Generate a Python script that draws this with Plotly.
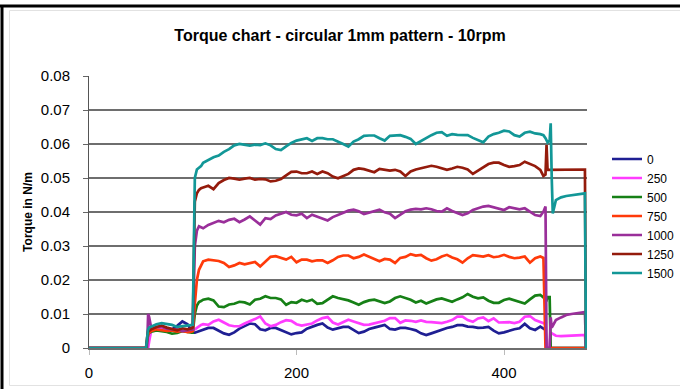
import plotly.graph_objects as go

# ---------------- data ----------------
time_s = [0, 54, 55, 56, 57, 58, 60, 65, 70, 75, 80, 85, 90, 95, 99, 100, 102, 104, 106, 108,
          110, 115, 120, 125, 130, 135, 140, 145, 150, 155, 160, 165, 170, 175, 180, 185, 190, 195, 200,
          205, 210, 215, 220, 225, 230, 235, 240, 245, 250, 255, 260, 265, 270, 275, 280, 285, 290, 295, 300, 305, 310, 315,
          320, 325, 330, 335, 340, 345, 350, 355, 360, 365, 370, 375, 380, 385, 390, 395, 400, 405, 410, 415, 420, 425, 430, 435,
          438, 440, 441, 442, 444, 445, 446, 447,
          450, 455, 460, 465, 470, 475, 478, 479]

torque_0 = [0, 0, 0, 0.001, 0.003, 0.0045, 0.0050, 0.0055, 0.0052, 0.0050, 0.0055, 0.0065, 0.0078, 0.0070, 0.0050, 0.0045, 0.0045, 0.0047, 0.0050, 0.0052,
            0.0055, 0.0059, 0.0059, 0.0051, 0.0043, 0.0039, 0.0046, 0.0057, 0.0064, 0.0072, 0.0070, 0.0055, 0.0052, 0.0059, 0.0059, 0.0052, 0.0047, 0.0040, 0.0044,
            0.0046, 0.0057, 0.0063, 0.0068, 0.0072, 0.0060, 0.0054, 0.0057, 0.0062, 0.0062, 0.0052, 0.0044, 0.0048, 0.0056, 0.0060, 0.0064, 0.0068, 0.0056, 0.0054, 0.0059, 0.0059, 0.0056, 0.0052,
            0.0043, 0.0038, 0.0043, 0.0049, 0.0055, 0.0059, 0.0062, 0.0067, 0.0067, 0.0063, 0.0062, 0.0059, 0.0060, 0.0062, 0.0051, 0.0043, 0.0046, 0.0051, 0.0055, 0.0058, 0.0071, 0.0058, 0.0053, 0.0063,
            0.0057, 0.0053, 0, 0, 0, 0, 0, 0,
            0, 0, 0, 0, 0, 0, 0, 0]

torque_250 = [0, 0, 0, 0, 0, 0.002, 0.0052, 0.0057, 0.0055, 0.0053, 0.0050, 0.0052, 0.0050, 0.0048, 0.0050, 0.0050, 0.0055, 0.0060, 0.0065, 0.0068,
              0.0070, 0.0068, 0.0078, 0.0083, 0.0075, 0.0067, 0.0064, 0.0064, 0.0072, 0.0078, 0.0085, 0.0093, 0.0072, 0.0064, 0.0068, 0.0076, 0.0082, 0.0080, 0.0070,
              0.0066, 0.0069, 0.0072, 0.0081, 0.0088, 0.0091, 0.0075, 0.0069, 0.0076, 0.0083, 0.0078, 0.0072, 0.0068, 0.0069, 0.0072, 0.0075, 0.0080, 0.0088, 0.0088, 0.0074, 0.0081, 0.0080, 0.0077,
              0.0081, 0.0077, 0.0076, 0.0075, 0.0073, 0.0077, 0.0082, 0.0092, 0.0092, 0.0082, 0.0077, 0.0087, 0.0090, 0.0079, 0.0087, 0.0075, 0.0075, 0.0076, 0.0073, 0.0077, 0.0092, 0.0094, 0.0082, 0.0077,
              0.0075, 0.0071, 0, 0, 0, 0.0045, 0.0043, 0.0042,
              0.0036, 0.0035, 0.0035, 0.0036, 0.0037, 0.0038, 0.0038, 0]

torque_500 = [0, 0, 0, 0.002, 0.004, 0.0045, 0.0048, 0.0052, 0.0050, 0.0047, 0.0042, 0.0044, 0.0050, 0.0046, 0.0045, 0.0045, 0.0100, 0.0125, 0.0135, 0.0138,
              0.0142, 0.0145, 0.0140, 0.0122, 0.0120, 0.0128, 0.0130, 0.0136, 0.0134, 0.0128, 0.0142, 0.0145, 0.0152, 0.0147, 0.0147, 0.0143, 0.0127, 0.0135, 0.0133,
              0.0142, 0.0137, 0.0142, 0.0130, 0.0132, 0.0142, 0.0152, 0.0147, 0.0144, 0.0140, 0.0134, 0.0127, 0.0135, 0.0140, 0.0142, 0.0137, 0.0132, 0.0137, 0.0147, 0.0152, 0.0147, 0.0142, 0.0134,
              0.0139, 0.0131, 0.0138, 0.0143, 0.0146, 0.0141, 0.0136, 0.0143, 0.0149, 0.0159, 0.0151, 0.0146, 0.0149, 0.0139, 0.0133, 0.0133, 0.0141, 0.0145, 0.0141, 0.0136, 0.0131, 0.0143, 0.0154, 0.0156,
              0.0149, 0.0141, 0.0140, 0.0150, 0.0150, 0, 0, 0,
              0, 0, 0, 0, 0, 0, 0, 0]

torque_750 = [0, 0, 0, 0.002, 0.004, 0.0045, 0.0050, 0.0055, 0.0053, 0.0050, 0.0052, 0.0048, 0.0050, 0.0047, 0.0048, 0.0050, 0.0130, 0.0200, 0.0230, 0.0245,
              0.0255, 0.0260, 0.0258, 0.0256, 0.0250, 0.0238, 0.0243, 0.0250, 0.0246, 0.0250, 0.0253, 0.0240, 0.0255, 0.0268, 0.0270, 0.0265, 0.0260, 0.0268, 0.0252,
              0.0260, 0.0260, 0.0255, 0.0258, 0.0258, 0.0250, 0.0258, 0.0268, 0.0272, 0.0272, 0.0264, 0.0268, 0.0275, 0.0268, 0.0260, 0.0255, 0.0262, 0.0260, 0.0250, 0.0265, 0.0268, 0.0276, 0.0272,
              0.0274, 0.0264, 0.0257, 0.0261, 0.0269, 0.0274, 0.0266, 0.0261, 0.0251, 0.0264, 0.0273, 0.0271, 0.0269, 0.0273, 0.0267, 0.0269, 0.0274, 0.0268, 0.0264, 0.0266, 0.0269, 0.0251, 0.0264, 0.0269,
              0.0265, 0, 0, 0, 0, 0, 0, 0,
              0, 0, 0, 0, 0, 0, 0, 0]

torque_1000 = [0, 0, 0, 0, 0.0100, 0.0090, 0.0058, 0.0062, 0.0062, 0.0057, 0.0055, 0.0055, 0.0050, 0.0053, 0.0055, 0.0055, 0.0300, 0.0345, 0.0358, 0.0355,
               0.0352, 0.0362, 0.0368, 0.0374, 0.0370, 0.0377, 0.0380, 0.0370, 0.0378, 0.0387, 0.0375, 0.0363, 0.0382, 0.0379, 0.0390, 0.0396, 0.0400, 0.0392, 0.0390,
               0.0395, 0.0382, 0.0392, 0.0387, 0.0382, 0.0375, 0.0385, 0.0392, 0.0397, 0.0404, 0.0407, 0.0402, 0.0394, 0.0399, 0.0404, 0.0407, 0.0399, 0.0395, 0.0382, 0.0392, 0.0402, 0.0407, 0.0409,
               0.0408, 0.0411, 0.0408, 0.0403, 0.0401, 0.0411, 0.0403, 0.0398, 0.0391, 0.0396, 0.0406, 0.0411, 0.0416, 0.0418, 0.0414, 0.0408, 0.0406, 0.0414, 0.0411, 0.0408, 0.0411, 0.0401, 0.0391, 0.0388,
               0.0401, 0.0416, 0, 0, 0, 0.0090, 0.0060, 0.0065,
               0.0082, 0.0090, 0.0097, 0.0100, 0.0102, 0.0105, 0.0106, 0]

torque_1250 = [0, 0, 0, 0.003, 0.005, 0.005, 0.0055, 0.0062, 0.0066, 0.0060, 0.0055, 0.0052, 0.0058, 0.0055, 0.0058, 0.0060, 0.0430, 0.0455, 0.0465, 0.0470,
               0.0472, 0.0477, 0.0467, 0.0485, 0.0494, 0.0500, 0.0498, 0.0495, 0.0498, 0.0500, 0.0495, 0.0497, 0.0496, 0.0490, 0.0492, 0.0497, 0.0508, 0.0518, 0.0519,
               0.0514, 0.0514, 0.0519, 0.0512, 0.0519, 0.0514, 0.0504, 0.0499, 0.0506, 0.0512, 0.0524, 0.0528, 0.0526, 0.0522, 0.0517, 0.0527, 0.0524, 0.0522, 0.0524, 0.0519, 0.0506, 0.0519, 0.0525,
               0.0528, 0.0533, 0.0536, 0.0533, 0.0528, 0.0524, 0.0528, 0.0533, 0.0530, 0.0525, 0.0512, 0.0522, 0.0533, 0.0541, 0.0545, 0.0545, 0.0538, 0.0533, 0.0535, 0.0538, 0.0548, 0.0541, 0.0535, 0.0524,
               0.0506, 0.0510, 0.0597, 0.0524, 0.0524, 0.0524, 0.0524, 0.0524,
               0.0524, 0.0525, 0.0525, 0.0525, 0.0525, 0.0525, 0.0525, 0]

torque_1500 = [0, 0, 0, 0.003, 0.0055, 0.0060, 0.0063, 0.0070, 0.0073, 0.0070, 0.0068, 0.0062, 0.0064, 0.0066, 0.0068, 0.0068, 0.0500, 0.0525, 0.0530, 0.0535,
               0.0545, 0.0553, 0.0561, 0.0566, 0.0577, 0.0585, 0.0596, 0.0600, 0.0598, 0.0595, 0.0598, 0.0597, 0.0602, 0.0596, 0.0585, 0.0582, 0.0593, 0.0603, 0.0610,
               0.0614, 0.0617, 0.0609, 0.0617, 0.0617, 0.0614, 0.0614, 0.0608, 0.0600, 0.0592, 0.0607, 0.0614, 0.0624, 0.0625, 0.0625, 0.0617, 0.0610, 0.0624, 0.0625, 0.0626, 0.0621, 0.0615, 0.0600,
               0.0609, 0.0617, 0.0626, 0.0633, 0.0635, 0.0624, 0.0629, 0.0627, 0.0626, 0.0626, 0.0618, 0.0612, 0.0605, 0.0622, 0.0629, 0.0633, 0.0639, 0.0637, 0.0626, 0.0622, 0.0633, 0.0636, 0.0631, 0.0629,
               0.0626, 0.0617, 0.0610, 0.0605, 0.0610, 0.0661, 0.0500, 0.0396,
               0.0435, 0.0443, 0.0447, 0.0449, 0.0451, 0.0453, 0.0455, 0]

series_names = ["0", "250", "500", "750", "1000", "1250", "1500"]
series_values = [torque_0, torque_250, torque_500, torque_750, torque_1000, torque_1250, torque_1500]
series_colors = ["#1f1f93", "#ff3cff", "#168016", "#ff3a0a", "#9a2f9a", "#941b0c", "#129797"]

for v in series_values:
    assert len(v) == len(time_s), (len(v), len(time_s))

# ---------------- figure ----------------
W, H = 680, 389
ML, MR, MT, MB = 89, 93, 76, 41
PW, PH = W - ML - MR, H - MT - MB

def px_x(px):
    return (px - ML) / PW

def px_y(py):
    return (H - MB - py) / PH

FONT = "Liberation Sans, Arial, Helvetica, sans-serif"

fig = go.Figure()
for name, vals, col in zip(series_names, series_values, series_colors):
    fig.add_trace(go.Scatter(x=time_s, y=vals, mode="lines", name=name,
                             line=dict(color=col, width=2.7)))

fig.update_layout(
    width=W, height=H,
    margin=dict(l=ML, r=MR, t=MT, b=MB, autoexpand=False),
    paper_bgcolor="white", plot_bgcolor="white",
    font=dict(family=FONT, color="black"),
    title=dict(text="<b>Torque chart - circular 1mm pattern - 10rpm</b>",
               font=dict(size=16, family=FONT, color="black"),
               x=0.5, xref="container", xanchor="center",
               y=1 - 35 / H, yref="container", yanchor="middle"),
    showlegend=True,
    legend=dict(x=px_x(607), xanchor="left", y=px_y(216), yanchor="middle",
                font=dict(size=12, family=FONT, color="black"),
                bgcolor="rgba(0,0,0,0)", borderwidth=0,
                itemwidth=30, tracegroupgap=0),
)

fig.update_xaxes(range=[0, 480], tickmode="linear", tick0=0, dtick=200,
                 showgrid=False, zeroline=False,
                 showline=True, linecolor="#6e6e6e", linewidth=1.5,
                 ticks="outside", ticklen=5, tickcolor="#bbbbbb", tickwidth=1,
                 tickfont=dict(size=15, family=FONT, color="black"),
                 ticklabelstandoff=5)

fig.update_yaxes(range=[0, 0.08], tickmode="linear", tick0=0, dtick=0.01,
                 showgrid=True, gridcolor="#6e6e6e", gridwidth=1.5, zeroline=False,
                 showline=True, linecolor="#555555", linewidth=1,
                 ticks="outside", ticklen=5, tickcolor="#666666", tickwidth=1,
                 tickfont=dict(size=15, family=FONT, color="black"),
                 ticklabelstandoff=10,
                 title=dict(text="<b>Torque in N/m</b>", font=dict(size=12, family=FONT, color="black"),
                            standoff=5))

# outer frame like the reference screenshot (black top/left edge, faint inner border)
shapes = [
    dict(type="line", xref="paper", yref="paper", x0=px_x(0), x1=px_x(W), y0=px_y(6), y1=px_y(6),
         line=dict(color="black", width=3)),
    dict(type="line", xref="paper", yref="paper", x0=px_x(2), x1=px_x(2), y0=px_y(5), y1=px_y(H),
         line=dict(color="black", width=3)),
    dict(type="line", xref="paper", yref="paper", x0=px_x(9.5), x1=px_x(W), y0=px_y(10.5), y1=px_y(10.5),
         line=dict(color="#e2e2e2", width=1)),
    dict(type="line", xref="paper", yref="paper", x0=px_x(9.5), x1=px_x(W), y0=px_y(385.5), y1=px_y(385.5),
         line=dict(color="#e2e2e2", width=1)),
    dict(type="line", xref="paper", yref="paper", x0=px_x(9.5), x1=px_x(9.5), y0=px_y(10.5), y1=px_y(385.5),
         line=dict(color="#e2e2e2", width=1)),
]
fig.update_layout(shapes=shapes)

fig.write_html(
    "out.html", config={"displayModeBar": False},
    post_script=("document.documentElement.style.overflow='hidden';"
                 "document.body.style.margin='0';document.body.style.overflow='hidden';"),
)
